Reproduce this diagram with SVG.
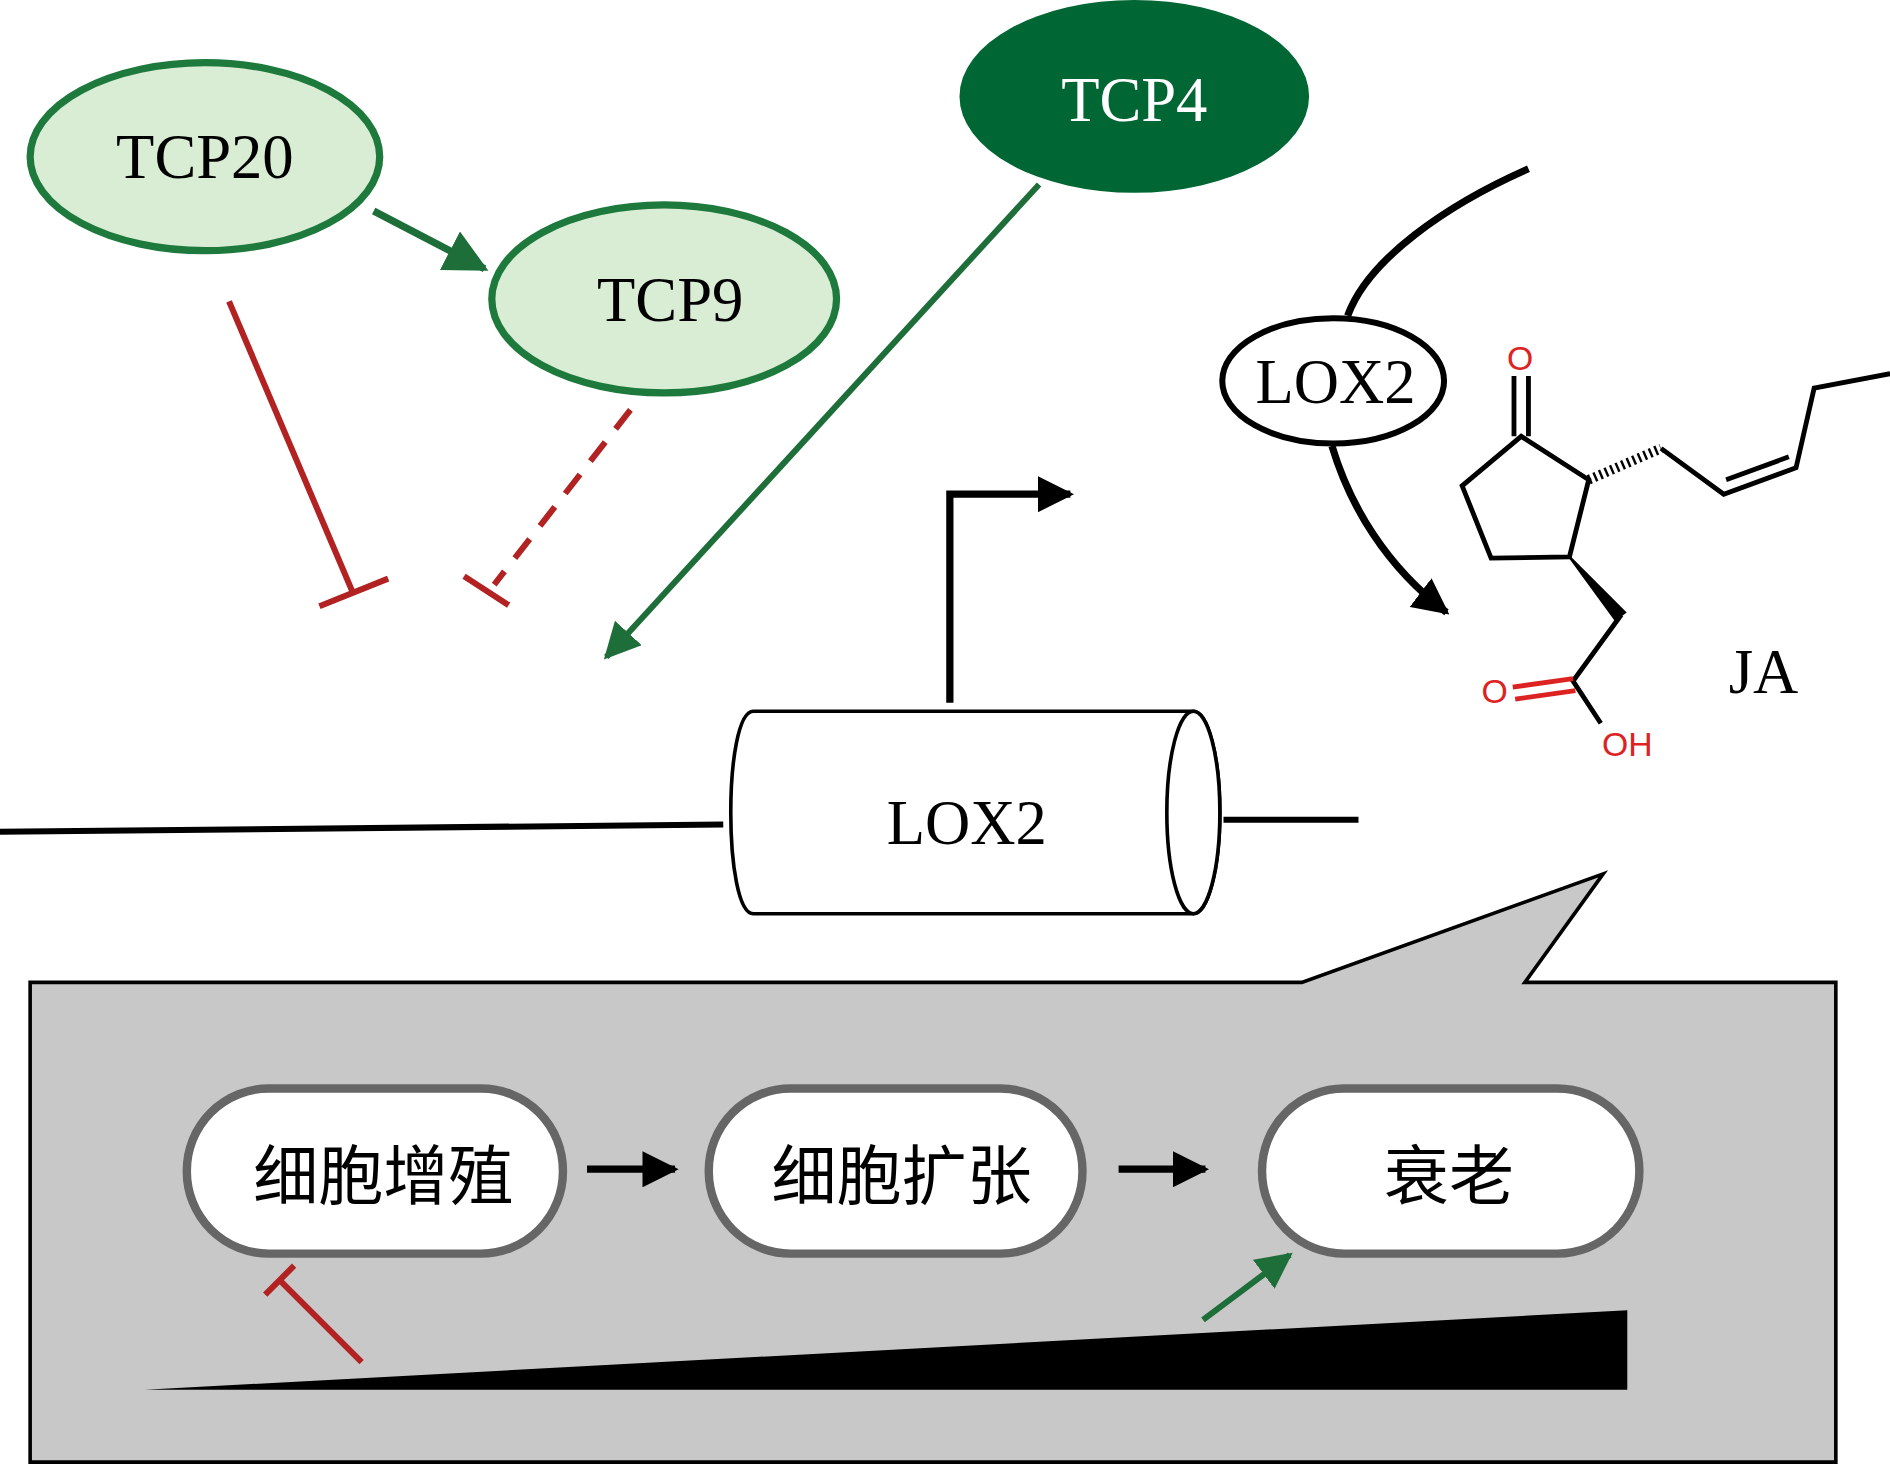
<svg xmlns="http://www.w3.org/2000/svg" width="1890" height="1465" viewBox="0 0 1890 1465">
<style>
.lg{fill:#d9ecd4;stroke:#1e7a3c;stroke-width:6}
.t{font-family:"Liberation Serif",serif;font-size:52px;text-anchor:middle}
.c{font-family:"Liberation Serif","Noto Sans CJK SC",serif;font-size:54px;text-anchor:middle}
.box{fill:#fff;stroke:#666;stroke-width:7}
.mol{stroke:#000;stroke-width:4;fill:none}
.red{stroke:#b22222;stroke-width:5;fill:none}
</style>
<defs>
<marker id="ag" viewBox="0 0 10 10" refX="9" refY="5" markerWidth="6" markerHeight="6" markerUnits="strokeWidth" orient="auto"><path d="M0,0L10,5L0,10z" fill="#1e6e3a"/></marker>
<marker id="ab" viewBox="0 0 10 10" refX="9" refY="5" markerWidth="5" markerHeight="5" markerUnits="strokeWidth" orient="auto"><path d="M0,0L10,5L0,10z" fill="#000"/></marker>
</defs>
<rect width="1890" height="1465" fill="#fff"/>
<g transform="scale(1.2054)">
<g id="callout">
<path d="M25,815H1080L1330,725L1265,815H1523V1213H25Z" fill="#c8c8c8" stroke="#000" stroke-width="3"/>
</g>
<g id="connectors">
<line x1="310" y1="175" x2="402" y2="223" stroke="#1e6e3a" stroke-width="6" marker-end="url(#ag)"/>
<line x1="862" y1="153" x2="503" y2="545" stroke="#1e6e3a" stroke-width="5" marker-end="url(#ag)" />
<line x1="190" y1="250" x2="292" y2="490" class="red"/>
<line x1="265" y1="503" x2="322" y2="480" class="red"/>
<line x1="523" y1="340" x2="410" y2="485" class="red" stroke-dasharray="20,14"/>
<line x1="385" y1="478" x2="422" y2="502" class="red"/>
<path d="M788,583V410H888" stroke="#000" stroke-width="6" fill="none" marker-end="url(#ab)"/>
<path d="M0,690L600,684M1015,680H1127" stroke="#000" stroke-width="5"/>
<path d="M1268,140C1200,170 1135,215 1118,262" stroke="#000" stroke-width="6" fill="none"/>
<path d="M1105,370C1120,420 1150,470 1200,508" stroke="#000" stroke-width="6" fill="none" marker-end="url(#ab)"/>
<line x1="487" y1="970" x2="560" y2="970" stroke="#000" stroke-width="6" marker-end="url(#ab)"/>
<line x1="928" y1="970" x2="1000" y2="970" stroke="#000" stroke-width="6" marker-end="url(#ab)"/>
<line x1="300" y1="1130" x2="232" y2="1062" class="red" stroke-width="6"/>
<line x1="220" y1="1074" x2="244" y2="1050" class="red" stroke-width="6"/>
<line x1="998" y1="1095" x2="1070" y2="1041" stroke="#1e6e3a" stroke-width="5" marker-end="url(#ag)"/>
</g>
<g id="tcp20"><ellipse cx="170" cy="130" rx="145" ry="78" class="lg"/><text x="170" y="148" class="t">TCP20</text></g>
<g id="tcp9"><ellipse cx="551" cy="248" rx="143" ry="78" class="lg"/><text x="556" y="266" class="t">TCP9</text></g>
<g id="tcp4"><ellipse cx="941" cy="80" rx="145" ry="80" fill="#006633"/><text x="941" y="100" class="t" fill="#fff">TCP4</text></g>
<g id="gene">
<path d="M625,590H990A22,84 0 0 1 990,758H625C600,758 600,590 625,590Z" fill="#fff" stroke="#000" stroke-width="3"/>
<ellipse cx="990" cy="674" rx="22" ry="84" fill="#fff" stroke="#000" stroke-width="3"/>
<text x="802" y="700" class="t">LOX2</text>
</g>
<g id="lox2"><ellipse cx="1106" cy="316" rx="92" ry="52" fill="#fff" stroke="#000" stroke-width="5"/><text x="1108" y="334" class="t">LOX2</text></g>
<g id="ja">
<path class="mol" d="M1262,362L1318,398L1302,462L1237,463L1213,403Z"/>
<path class="mol" d="M1256,362V312M1268,362V312" stroke="#d22" />
<path d="M1318,398L1378,372" stroke="#000" stroke-width="8" stroke-dasharray="2,3"/>
<path class="mol" d="M1378,372L1430,410L1490,388L1505,322L1568,310"/>
<path class="mol" d="M1432,398L1484,379"/>
<path d="M1302,462L1348,508L1340,514Z" fill="#000" stroke="#000" stroke-width="2"/>
<path class="mol" d="M1345,510L1305,565L1328,600"/>
<path d="M1305,563L1255,570M1307,573L1257,580" stroke="#d22" stroke-width="4"/>
<text x="1261" y="307" font-family="Liberation Sans,sans-serif" font-size="28" fill="#d22" text-anchor="middle">O</text>
<text x="1240" y="583" font-family="Liberation Sans,sans-serif" font-size="28" fill="#d22" text-anchor="middle">O</text>
<text x="1350" y="627" font-family="Liberation Sans,sans-serif" font-size="28" fill="#d22" text-anchor="middle">OH</text>
<text x="1463" y="575" class="t">JA</text>
</g>
<g id="box1"><rect x="155" y="903" width="312" height="137" rx="68" class="box"/><text x="318" y="995" class="c">细胞增殖</text></g>
<g id="box2"><rect x="588" y="903" width="310" height="137" rx="68" class="box"/><text x="748" y="995" class="c">细胞扩张</text></g>
<g id="box3"><rect x="1047" y="903" width="313" height="137" rx="68" class="box"/><text x="1202" y="995" class="c">衰老</text></g>
<g id="wedge"><path d="M120,1153L1350,1087V1153Z" fill="#000"/></g>
</g>
</svg>
